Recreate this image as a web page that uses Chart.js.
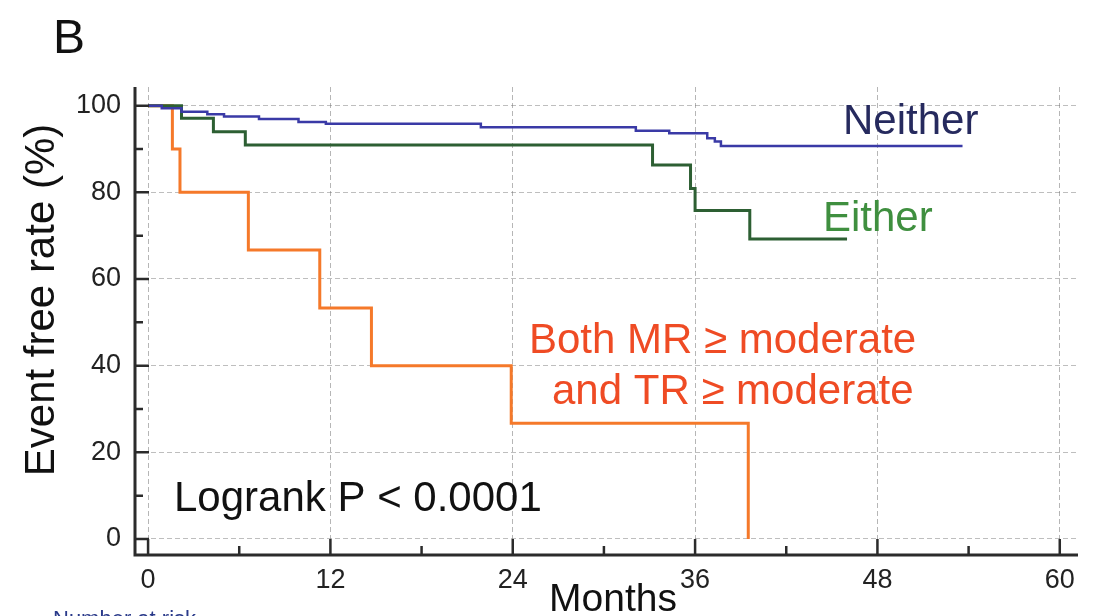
<!DOCTYPE html>
<html>
<head>
<meta charset="utf-8">
<script src="https://cdn.jsdelivr.net/npm/chart.js@4/dist/chart.umd.min.js"></script>
<style>
  html, body { margin: 0; padding: 0; background: #fff; }
  #c { display: block; }
</style>
</head>
<body>
<canvas id="c" width="1095" height="616"></canvas>
<script>
// ---- data (Kaplan-Meier step points: time in months, event-free %) ----
const neitherMonths = [0, 0.9, 2.2, 3.9, 5.0, 7.3, 9.9, 11.7, 21.9, 32.1, 34.3, 36.8, 37.3, 37.7, 53.6];
const neitherRate   = [100, 99.4, 98.6, 98.0, 97.5, 96.9, 96.2, 95.8, 95.0, 94.2, 93.6, 92.5, 91.7, 90.7, 90.7];

const eitherMonths = [0, 2.2, 4.3, 6.4, 33.2, 35.7, 36.0, 39.6, 46.0];
const eitherRate   = [100, 97.1, 94.0, 90.9, 86.3, 80.9, 75.8, 69.2, 69.2];

const bothMonths = [0, 1.6, 2.1, 6.6, 11.3, 14.7, 23.9, 39.5];
const bothRate   = [100, 90, 80, 66.7, 53.3, 40, 26.7, 0];

const xTicks = [0, 12, 24, 36, 48, 60];
const xMinorTicks = [6, 18, 30, 42, 54];
const yTicks = [0, 20, 40, 60, 80, 100];
const yMinorTicks = [10, 30, 50, 70, 90];

const seriesNames = ["Neither", "Either", "Both MR \u2265 moderate and TR \u2265 moderate"];

function pts(xs, ys) { return xs.map((x, i) => ({ x: x, y: ys[i] })); }

const FONT = "'Liberation Sans', Arial, 'DejaVu Sans', sans-serif";

const overlay = {
  id: 'overlay',
  afterDraw(chart) {
    const ctx = chart.ctx;
    const xs = chart.scales.x, ys = chart.scales.y;
    const a = chart.chartArea;
    ctx.save();
    // axes
    ctx.strokeStyle = '#2b2b2b';
    ctx.lineWidth = 3;
    ctx.beginPath();
    ctx.moveTo(a.left, a.top);
    ctx.lineTo(a.left, a.bottom);
    ctx.lineTo(a.right, a.bottom);
    ctx.stroke();
    // ticks (pointing inward)
    ctx.lineWidth = 2.5;
    ctx.beginPath();
    yTicks.forEach(v => { const y = ys.getPixelForValue(v); ctx.moveTo(a.left, y); ctx.lineTo(a.left + 14, y); });
    yMinorTicks.forEach(v => { const y = ys.getPixelForValue(v); ctx.moveTo(a.left, y); ctx.lineTo(a.left + 8, y); });
    xTicks.forEach(v => { const x = xs.getPixelForValue(v); ctx.moveTo(x, a.bottom); ctx.lineTo(x, a.bottom - 16); });
    xMinorTicks.forEach(v => { const x = xs.getPixelForValue(v); ctx.moveTo(x, a.bottom); ctx.lineTo(x, a.bottom - 9); });
    ctx.stroke();

    // texts
    ctx.textBaseline = 'alphabetic';
    ctx.textAlign = 'left';
    ctx.fillStyle = '#111';
    ctx.font = '48px ' + FONT;
    ctx.fillText('B', 53, 53);

    ctx.font = '42px ' + FONT;
    ctx.fillStyle = '#262a5e';
    ctx.fillText(seriesNames[0], 843, 134);
    ctx.fillStyle = '#3f8f3f';
    ctx.fillText(seriesNames[1], 823, 231);
    ctx.fillStyle = '#ef4b24';
    ctx.fillText('Both MR \u2265 moderate', 529, 353);
    ctx.fillText('and TR \u2265 moderate', 552, 404);
    ctx.fillStyle = '#111';
    ctx.fillText('Logrank P < 0.0001', 174, 511);

    // axis titles
    ctx.font = '39px ' + FONT;
    ctx.textAlign = 'center';
    ctx.fillText('Months', 613, 611);
    ctx.save();
    ctx.translate(54, 300);
    ctx.rotate(-Math.PI / 2);
    ctx.font = '42px ' + FONT;
    ctx.fillText('Event free rate (%)', 0, 0);
    ctx.restore();

    ctx.font = '22px ' + FONT;
    ctx.textAlign = 'left';
    ctx.fillStyle = '#2a3a8a';
    ctx.fillText('Number at risk', 53, 626);
    ctx.restore();
  }
};

new Chart(document.getElementById('c'), {
  type: 'line',
  data: {
    datasets: [
      { label: seriesNames[0], data: pts(neitherMonths, neitherRate), stepped: 'before',
        borderColor: '#3a3aa6', borderWidth: 2.5, pointRadius: 0, fill: false },
      { label: seriesNames[1], data: pts(eitherMonths, eitherRate), stepped: 'before',
        borderColor: '#2d5f33', borderWidth: 3, pointRadius: 0, fill: false },
      { label: seriesNames[2], data: pts(bothMonths, bothRate), stepped: 'before',
        borderColor: '#f5792a', borderWidth: 3, pointRadius: 0, fill: false }
    ]
  },
  options: {
    responsive: false,
    animation: false,
    layout: { padding: { left: 75, top: 87, right: 17, bottom: 21 } },
    plugins: { legend: { display: false }, tooltip: { enabled: false } },
    scales: {
      x: {
        type: 'linear', min: -0.86, max: 61.2,
        afterFit(s) { s.height = 40; },
        afterBuildTicks(s) { s.ticks = xTicks.map(v => ({ value: v })); },
        ticks: { color: '#222', font: { family: FONT, size: 27 }, padding: 9, maxRotation: 0, autoSkip: false },
        grid: { color: 'rgba(110,110,110,0.5)', lineWidth: 1, drawTicks: false, borderDash: [5, 3] },
        border: { display: false, dash: [5, 3] }
      },
      y: {
        type: 'linear', min: -3.7, max: 104.3,
        afterFit(s) { s.width = 60; },
        afterBuildTicks(s) { s.ticks = yTicks.map(v => ({ value: v })); },
        ticks: { color: '#222', font: { family: FONT, size: 27 }, padding: 14, autoSkip: false },
        grid: { color: 'rgba(110,110,110,0.45)', lineWidth: 1, drawTicks: false, borderDash: [5, 3] },
        border: { display: false, dash: [5, 3] }
      }
    }
  },
  plugins: [overlay]
});
</script>
</body>
</html>
